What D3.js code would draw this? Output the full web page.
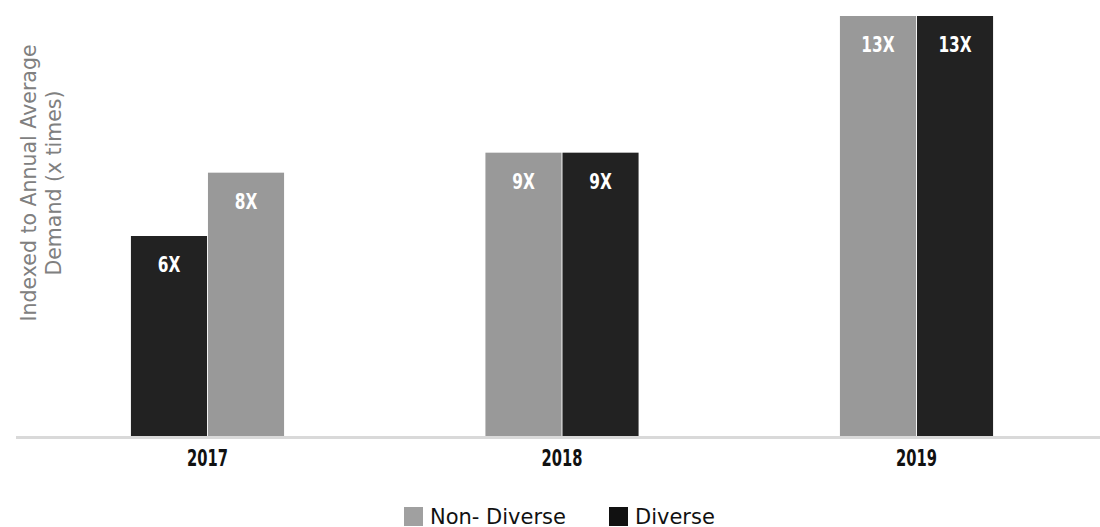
<!DOCTYPE html>
<html>
<head>
<meta charset="utf-8">
<script src="https://cdn.jsdelivr.net/npm/d3@7"></script>
<style>
  html, body { margin: 0; padding: 0; background: #ffffff; }
  svg { display: block; }
</style>
</head>
<body>
<svg id="chart" width="1100" height="527"></svg>
<script>
// ---- data ----
const years = ["2017", "2018", "2019"];
const seriesNames = ["Non- Diverse", "Diverse"];
const nonDiverse = [7.9, 8.5, 13];
const diverse = [6, 8.5, 13];
// which series is drawn on the left in each year group
const leftSeries = ["Diverse", "Non- Diverse", "Non- Diverse"];
const yTitle = ["Indexed to Annual Average", "Demand (x times)"];

const colors = { "Non- Diverse": "#999999", "Diverse": "#222222" };
const legendColors = { "Non- Diverse": "#a0a0a0", "Diverse": "#111111" };

const svg = d3.select("#chart");
const W = 1100, H = 527;

const x = d3.scaleBand().domain(years).range([30.25, 1093.75])
  .paddingInner(0.568).paddingOuter(0.284);
const y = d3.scaleLinear().domain([0, 12.6]).range([436, 16]).clamp(true);

const rows = years.map((yr, i) => {
  const order = leftSeries[i] === "Diverse" ? ["Diverse", "Non- Diverse"] : ["Non- Diverse", "Diverse"];
  return {
    year: yr, order,
    values: { "Non- Diverse": nonDiverse[i], "Diverse": diverse[i] }
  };
});

const condensed = '"DejaVu Sans", sans-serif';
const geo = '"DejaVu Sans", "Noto Sans", sans-serif';

// bars
const groups = svg.append("g").selectAll("g").data(rows).join("g")
  .attr("transform", d => `translate(${x(d.year)},0)`);

groups.each(function(d) {
  const xs = d3.scaleBand().domain(d.order).range([0, x.bandwidth()]).paddingInner(0.012);
  const g = d3.select(this);
  const items = d.order.map(s => ({ s, v: d.values[s] }));
  g.selectAll("rect").data(items).join("rect")
    .attr("x", e => xs(e.s))
    .attr("y", e => y(e.v))
    .attr("width", xs.bandwidth())
    .attr("height", e => y(0) - y(e.v))
    .attr("fill", e => colors[e.s]);
  g.selectAll("g.val").data(items).join("g")
    .attr("class", "val")
    .attr("transform", e => `translate(${xs(e.s) + xs.bandwidth() / 2},${y(e.v) + 36}) scale(0.7,1)`)
    .append("text")
    .attr("text-anchor", "middle")
    .attr("fill", "#ffffff")
    .style("font-family", condensed)
    .style("font-weight", "bold")
    .style("font-size", "22px")
    .text(e => Math.round(e.v) + "X");
});

// x axis
const xAxis = svg.append("g")
  .attr("transform", `translate(0,${y(0)})`)
  .call(d3.axisBottom(x).tickSize(0).tickPadding(30));
xAxis.select(".domain").remove();
xAxis.selectAll("text")
  .attr("dy", 0)
  .attr("transform", "scale(0.64,1)")
  .attr("fill", "#111111")
  .style("font-family", condensed)
  .style("font-weight", "bold")
  .style("font-size", "23px");

svg.append("line")
  .attr("x1", 16).attr("x2", W)
  .attr("y1", y(0) + 1.5).attr("y2", y(0) + 1.5)
  .attr("stroke", "#d9d9d9").attr("stroke-width", 3);

// y title
const yt = svg.append("text")
  .attr("transform", "translate(0,183) rotate(-90)")
  .attr("text-anchor", "middle")
  .attr("fill", "#808080")
  .style("font-family", geo)
  .style("font-size", "20.5px");
yt.selectAll("tspan").data(yTitle).join("tspan")
  .attr("x", 0)
  .attr("y", (d, i) => 36 + i * 25)
  .text(d => d);

// legend
const legendX = d3.scalePoint().domain(seriesNames).range([404, 609]);
const leg = svg.append("g").selectAll("g").data(seriesNames).join("g")
  .attr("transform", d => `translate(${legendX(d)},507)`);
leg.append("rect").attr("width", 19).attr("height", 19).attr("fill", d => legendColors[d]);
leg.append("text")
  .attr("x", 26).attr("y", 16.5)
  .attr("fill", "#111111")
  .style("font-family", geo)
  .style("font-size", "21px")
  .text(d => d);
</script>
</body>
</html>
